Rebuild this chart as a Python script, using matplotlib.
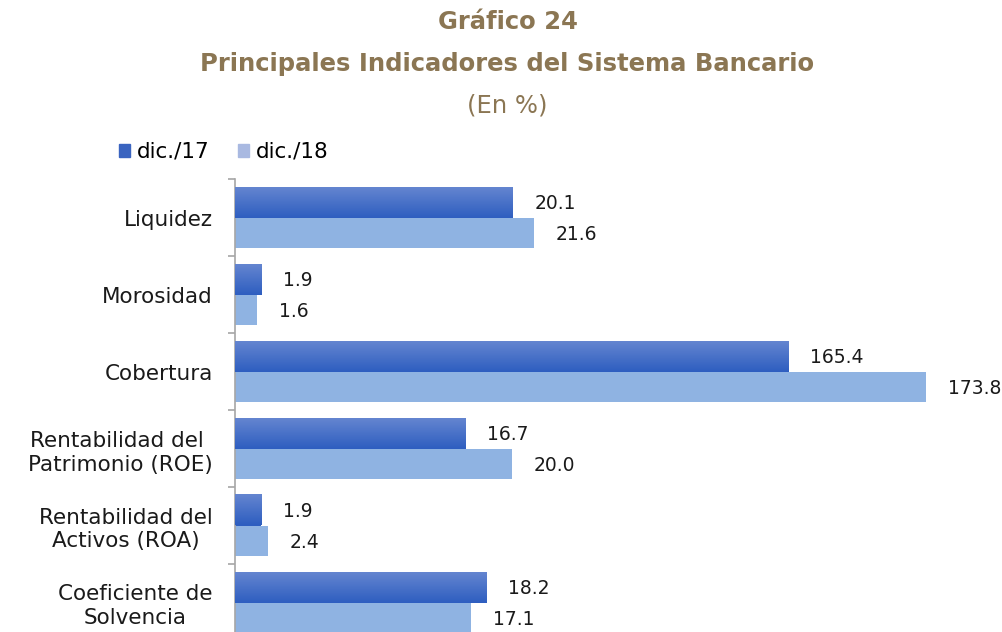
#!/usr/bin/env python3

import matplotlib
matplotlib.use("Agg")
import matplotlib.pyplot as plt
import matplotlib.colors as mcolors
import numpy as np

# Data
categories = ["Liquidez", "Morosidad", "Cobertura",
              "Rentabilidad del \nPatrimonio (ROE)",
              "Rentabilidad del\nActivos (ROA)",
              "Coeficiente de\nSolvencia"]
dic17 = [20.1, 1.9, 165.4, 16.7, 1.9, 18.2]
dic18 = [21.6, 1.6, 173.8, 20.0, 2.4, 17.1]
# The original shortens the Cobertura bars (165.4 / 173.8 drawn as ~40 / ~50)
dic17_drawn = [20.1, 1.9, 40.0, 16.7, 1.9, 18.2]
dic18_drawn = [21.6, 1.6, 50.0, 20.0, 2.4, 17.1]
series_names = ["dic./17", "dic./18"]

title_color = "#8b7653"
light_blue = "#8fb3e2"
grad_top, grad_bottom = "#6485d0", "#2e5ec0"

plt.rcParams["font.family"] = ["DejaVu Sans"]

fig = plt.figure(figsize=(10.03, 6.32), dpi=100)

# axes placed so the last group runs off the bottom, as in the picture
W, H = 1003, 632
left_px, top_px, bottom_px = 235, 179, 179 + 6 * 77
xmax = 55
px_per_unit = 13.83
ax = fig.add_axes([left_px / W, 1 - bottom_px / H,
                   xmax * px_per_unit / W, (bottom_px - top_px) / H])

y = np.arange(len(categories))
h = 0.4
bars17 = ax.barh(y - h / 2, dic17_drawn, height=h, color=grad_bottom, zorder=2)
bars18 = ax.barh(y + h / 2, dic18_drawn, height=h, color=light_blue, zorder=2)

# vertical gradient on the dic./17 bars
cmap = mcolors.LinearSegmentedColormap.from_list("g", [grad_top, grad_bottom])
grad = np.linspace(0, 1, 64).reshape(-1, 1)
for b in bars17:
    x0, y0 = b.get_x(), b.get_y()
    ax.imshow(grad, extent=[x0, x0 + b.get_width(), y0 + b.get_height(), y0],
              aspect="auto", cmap=cmap, zorder=3, interpolation="bicubic")

ax.set_xlim(0, xmax)
ax.set_ylim(len(categories) - 0.5, -0.5)

# value labels
for bars, vals in ((bars17, dic17), (bars18, dic18)):
    for b, v in zip(bars, vals):
        ax.annotate(f"{v:.1f}", (b.get_width(), b.get_y() + b.get_height() / 2),
                    xytext=(15.5, -1), textcoords="offset points",
                    ha="left", va="center", fontsize=13.5, color="#1a1a1a",
                    annotation_clip=False)

for s in ("top", "right", "bottom"):
    ax.spines[s].set_visible(False)
ax.spines["left"].set_color("#a6a6a6")
ax.spines["left"].set_linewidth(1.2)
ax.set_xticks([])
ax.set_yticks(y)
ax.set_yticklabels(categories, fontsize=15.5, multialignment="center",
                   linespacing=1.25, color="#1a1a1a")
ax.tick_params(axis="y", which="major", length=0, pad=16)
ax.set_yticks(np.arange(-0.5, len(categories) + 0.5, 1), minor=True)
ax.tick_params(axis="y", which="minor", length=5, color="#a6a6a6", width=1.2)

# titles
fig.text(0.506, 1 - 22 / H, "Gráfico 24", ha="center", va="center",
         fontsize=17.5, fontweight="bold", color=title_color)
fig.text(0.506, 1 - 64 / H, "Principales Indicadores del Sistema Bancario",
         ha="center", va="center", fontsize=17.5, fontweight="bold", color=title_color)
fig.text(0.506, 1 - 105 / H, "(En %)", ha="center", va="center",
         fontsize=17.5, color=title_color)

# legend
handles = [plt.Rectangle((0, 0), 1, 1, color="#3a64c0"),
           plt.Rectangle((0, 0), 1, 1, color="#a9b9e1")]
fig.legend(handles, series_names, loc="center left",
           bbox_to_anchor=(110 / W, 1 - 152 / H), ncol=2, frameon=False,
           fontsize=15.5, handlelength=0.55, handleheight=0.55, handletextpad=0.3,
           columnspacing=1.3, borderaxespad=0)

fig.savefig("out.png", dpi=100)
